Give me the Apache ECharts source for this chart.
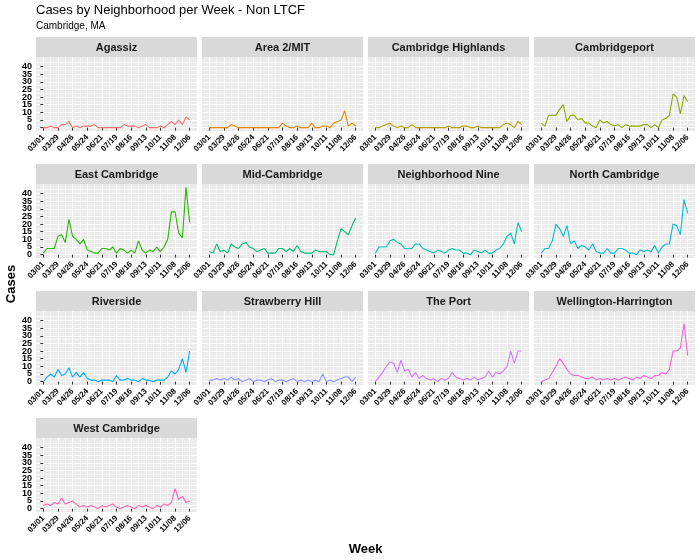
<!DOCTYPE html>
<html><head><meta charset="utf-8">
<script src="https://cdn.jsdelivr.net/npm/echarts@6/dist/echarts.min.js"></script>
<style>html,body{margin:0;padding:0;background:#fff}#c{width:700px;height:560px}</style>
</head><body><div id="c"></div>
<script>
// ---- data ----
const neighborhoods = ["Agassiz","Area 2/MIT","Cambridge Highlands","Cambridgeport","East Cambridge","Mid-Cambridge","Neighborhood Nine","North Cambridge","Riverside","Strawberry Hill","The Port","Wellington-Harrington","West Cambridge"];
const tickLabels = ["03/01","03/29","04/26","05/24","06/21","07/19","08/16","09/13","10/11","11/08","12/06"];
const tickWeeks = [0,4,8,12,16,20,24,28,32,36,40];
const minorWeeks = [2,6,10,14,18,22,26,30,34,38];
const yTicksEven = [0,10,20,30,40];
const yTicksOdd = [5,15,25,35];
const yTicks = [0,5,10,15,20,25,30,35,40];
const yMinor = [2.5,7.5,12.5,17.5,22.5,27.5,32.5,37.5,42.5];

const agassiz        = [0,0,1,0,0,2,2,4,0,1, 0,1,1,1,2,0,0,0,0,0, 0,0,2,1,1,1,0,1,2,0, 0,0,1,0,2,4,2,5,2,7, 5];
const area2MIT       = [0,0,0,0,0,0,2,1,0,0, 0,0,0,0,0,0,0,0,0,0, 3,1,0,0,1,0,0,0,3,0, 0,1,1,0,3,4,5,11,1,3, 1];
const highlands      = [0,0,1,2,3,1,0,1,0,0, 2,0,0,0,0,0,0,0,0,0, 1,0,0,0,1,1,0,0,1,0, 0,0,0,0,0,2,3,2,0,4, 2];
const cambridgeport  = [3,1,8,8,8,12,15,4,8,8, 5,6,3,3,1,0,5,3,4,2, 1,2,0,2,1,1,1,1,2,2, 0,2,0,5,6,8,22,20,9,21, 17];
const eastCambridge  = [1,4,4,4,12,13,8,23,12,10, 7,10,3,2,1,1,4,4,3,5, 1,4,3,1,3,1,9,3,1,3, 2,5,2,5,10,28,28,14,11,44, 21];
const midCambridge   = [2,1,7,2,3,1,7,5,4,7, 8,5,4,2,3,4,1,1,1,4, 4,2,4,2,6,2,1,1,1,3, 2,2,2,0,0,9,17,15,13,19, 24];
const nine           = [1,5,5,5,9,10,8,7,4,4, 4,7,7,4,3,2,1,3,2,1, 3,4,3,3,1,1,0,3,2,1, 3,1,1,3,4,7,12,14,7,21, 15];
const northCambridge = [1,4,4,9,20,17,12,19,7,9, 4,6,5,3,7,2,1,1,4,1, 1,4,4,3,1,1,0,3,2,3, 2,6,1,5,7,7,20,19,13,36, 27];
const riverside      = [0,3,5,3,8,4,5,9,3,6, 3,6,2,1,1,0,1,1,1,0, 4,1,1,2,1,1,0,2,1,1, 0,1,1,1,3,7,5,8,15,6, 20];
const strawberryHill = [1,1,2,1,2,1,3,1,2,0, 1,2,0,1,1,0,1,2,0,1, 1,0,1,2,0,1,0,1,0,1, 0,5,0,1,0,1,2,3,3,0, 3];
const thePort        = [0,3,6,10,13,12,6,14,7,8, 3,6,2,4,2,1,2,0,2,1, 2,6,3,2,1,2,1,3,1,2, 3,7,3,6,5,7,10,20,12,20, 20];
const wellington     = [0,1,2,6,10,15,12,8,5,4, 4,3,2,2,3,1,2,1,2,1, 2,1,2,3,2,1,3,2,4,3, 2,4,4,6,5,8,20,20,22,38, 17];
const westCambridge  = [2,3,2,4,3,7,3,4,5,3, 1,2,1,2,1,0,2,1,2,3, 1,0,1,2,1,0,2,1,2,1, 0,2,1,3,2,4,13,6,8,4, 5];

const seriesValues = [agassiz,area2MIT,highlands,cambridgeport,eastCambridge,midCambridge,nine,northCambridge,riverside,strawberryHill,thePort,wellington,westCambridge];
const colors = ["#F8766D","#E18A00","#BE9C00","#8CAB00","#24B700","#00BE70","#00C1AB","#00BBDA","#00ACFC","#8B93FF","#D575FE","#F962DD","#FF65AC"];

// ---- layout ----
const FONT = '"Liberation Sans", Arial, sans-serif';
const PW = 161, PH = 74, STRIP = 20;
const colLeft = [36, 202, 368, 534];
const rowTop = [37, 164, 291, 418];
const YMIN = -2.2, YMAX = 46.2;

const yLabelStyle = {margin: 4, fontSize: 9, fontWeight: 'bold', color: '#000000', fontFamily: FONT, showMinLabel: true, showMaxLabel: true, hideOverlap: false};
const grids = [], xAxes = [], yAxes = [], series = [], graphics = [];
neighborhoods.forEach((name, i) => {
  const r = Math.floor(i / 4), c = i % 4;
  const left = colLeft[c], top = rowTop[r] + STRIP;
  grids.push({left: left, top: top, width: PW, height: PH, show: true, backgroundColor: '#EBEBEB', borderWidth: 0, containLabel: false, outerBoundsMode: 'none'});
  // minor x
  xAxes.push({type: 'value', gridIndex: i, position: 'top', min: -2, max: 42, silent: true,
    axisLine: {show: false}, axisTick: {show: false, customValues: minorWeeks}, axisLabel: {show: false, customValues: minorWeeks},
    splitLine: {show: true, lineStyle: {color: '#FFFFFF', width: 0.55}}});
  // major x
  xAxes.push({type: 'value', gridIndex: i, position: 'bottom', min: -2, max: 42, silent: true,
    axisLine: {show: false},
    axisTick: {show: true, customValues: tickWeeks, length: 3, lineStyle: {color: '#333333', width: 1}},
    axisLabel: {show: true, customValues: tickWeeks, rotate: 45, margin: 5, fontSize: 8, fontWeight: 'bold', color: '#000000', fontFamily: FONT,
      showMinLabel: true, showMaxLabel: true, hideOverlap: false,
      formatter: v => { const k = tickWeeks.indexOf(Math.round(v)); return k >= 0 ? tickLabels[k] : ''; }},
    splitLine: {show: true, lineStyle: {color: '#FFFFFF', width: 1.1}}});
  // minor y (grid lines only)
  yAxes.push({type: 'value', gridIndex: i, position: 'right', min: YMIN, max: YMAX, silent: true,
    axisLine: {show: false}, axisTick: {show: false, customValues: yMinor}, axisLabel: {show: false, customValues: yMinor},
    splitLine: {show: true, lineStyle: {color: '#FFFFFF', width: 0.55}}});
  // major y: grid lines + labels 0,10,...,40
  yAxes.push({type: 'value', gridIndex: i, position: 'left', min: YMIN, max: YMAX, silent: true,
    axisLine: {show: false},
    axisTick: {show: c === 0, customValues: yTicks, length: 3, lineStyle: {color: '#333333', width: 1}},
    axisLabel: Object.assign({show: c === 0, customValues: yTicksEven}, yLabelStyle),
    splitLine: {show: true, lineStyle: {color: '#FFFFFF', width: 1.1}}});
  // labels 5,15,25,35 on a companion axis
  yAxes.push({type: 'value', gridIndex: i, position: 'left', min: YMIN, max: YMAX, silent: true,
    axisLine: {show: false},
    axisTick: {show: false, customValues: yTicksOdd},
    axisLabel: Object.assign({show: c === 0, customValues: yTicksOdd}, yLabelStyle),
    splitLine: {show: false}});
  series.push({type: 'line', name: name, xAxisIndex: 2 * i + 1, yAxisIndex: 3 * i + 1,
    data: seriesValues[i].map((v, k) => [k, v]), symbol: 'none', showSymbol: false, silent: true,
    lineStyle: {color: colors[i], width: 1.1}, itemStyle: {color: colors[i]}, z: 5});
  graphics.push({type: 'rect', silent: true, shape: {x: left, y: rowTop[r], width: PW, height: STRIP}, style: {fill: '#D9D9D9'}});
  graphics.push({type: 'text', silent: true, style: {x: left + PW / 2, y: rowTop[r] + STRIP / 2 + 0.5, text: name, align: 'center', verticalAlign: 'middle',
    font: 'bold 11px ' + FONT, fill: '#1A1A1A'}});
});

graphics.push({type: 'text', silent: true, style: {x: 36, y: 10.5, text: 'Cases by Neighborhood per Week - Non LTCF', align: 'left', verticalAlign: 'middle', font: '13px ' + FONT, fill: '#000000'}});
graphics.push({type: 'text', silent: true, style: {x: 36, y: 26, text: 'Cambridge, MA', align: 'left', verticalAlign: 'middle', font: '10px ' + FONT, fill: '#000000'}});
graphics.push({type: 'text', silent: true, style: {x: 365.5, y: 549, text: 'Week', align: 'center', verticalAlign: 'middle', font: 'bold 13px ' + FONT, fill: '#000000'}});
graphics.push({type: 'text', silent: true, rotation: Math.PI / 2, x: 11, y: 284, style: {x: 0, y: 0, text: 'Cases', align: 'center', verticalAlign: 'middle', font: 'bold 13px ' + FONT, fill: '#000000'}});

const chart = echarts.init(document.getElementById('c'), null, {renderer: 'canvas'});
chart.setOption({
  animation: false,
  backgroundColor: '#FFFFFF',
  grid: grids, xAxis: xAxes, yAxis: yAxes, series: series,
  graphic: {elements: graphics}
});
</script>
</body></html>
